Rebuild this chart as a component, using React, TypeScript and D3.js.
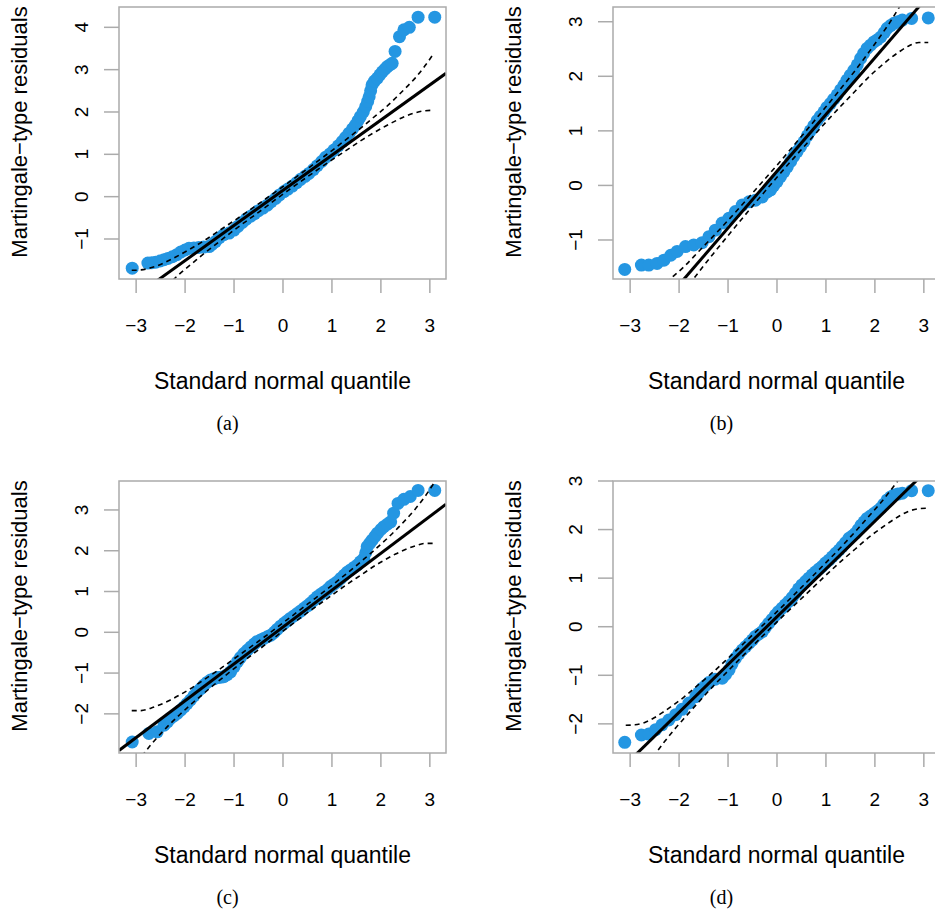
import { useEffect, useRef } from 'react';
import * as d3 from 'd3';

const W = 935;
const H = 910;

const xTicks = [-3, -2, -1, 0, 1, 2, 3];
const xDomain: [number, number] = [-3.35, 3.33];

// Envelope abscissae (shared by all panels)
const envX = [-3.09, -2.9, -2.7, -2.5, -2.3, -2.1, -1.9, -1.6, -1.3, -1, -0.5, 0, 0.5, 1, 1.3, 1.6, 1.9, 2.1, 2.3, 2.5, 2.7, 2.9, 3.09];

// (a)
const qA = [-3.08, -2.76, -2.68, -2.6, -2.51, -2.43, -2.35, -2.26, -2.17, -2.09, -2.0, -1.92, -1.82, -1.72, -1.62, -1.51, -1.45, -1.38, -1.3, -1.21, -1.1, -1.0, -0.92, -0.83, -0.75, -0.66, -0.58, -0.5, -0.41, -0.32, -0.24, -0.15, -0.07, 0.02, 0.1, 0.19, 0.28, 0.36, 0.45, 0.53, 0.62, 0.7, 0.79, 0.87, 0.96, 1.04, 1.13, 1.21, 1.28, 1.35, 1.42, 1.48, 1.53, 1.58, 1.64, 1.69, 1.73, 1.76, 1.79, 1.82, 1.87, 1.93, 1.98, 2.03, 2.08, 2.13, 2.18, 2.23, 2.29, 2.38, 2.47, 2.58, 2.76, 3.1];
const resA = [-1.69, -1.57, -1.56, -1.55, -1.52, -1.49, -1.46, -1.42, -1.37, -1.31, -1.26, -1.22, -1.21, -1.2, -1.19, -1.18, -1.13, -1.06, -0.97, -0.9, -0.86, -0.79, -0.7, -0.61, -0.53, -0.46, -0.4, -0.33, -0.27, -0.2, -0.12, -0.04, 0.04, 0.12, 0.18, 0.25, 0.33, 0.41, 0.48, 0.55, 0.64, 0.73, 0.83, 0.93, 1.01, 1.1, 1.2, 1.3, 1.4, 1.5, 1.6, 1.69, 1.79, 1.89, 2.0, 2.13, 2.25, 2.36, 2.5, 2.64, 2.73, 2.8, 2.88, 2.95, 3.01, 3.07, 3.11, 3.15, 3.43, 3.78, 3.94, 4.0, 4.24, 4.24];
const yTicksA = [-1, 0, 1, 2, 3, 4];
const lineA = [0.15, 0.83]; // intercept, slope
const envHiA = [-1.74, -1.73, -1.68, -1.6, -1.49, -1.37, -1.24, -1.03, -0.8, -0.57, -0.17, 0.24, 0.66, 1.09, 1.36, 1.63, 1.92, 2.11, 2.33, 2.56, 2.8, 3.09, 3.4];
const envLoA = [-3.1, -2.79, -2.5, -2.26, -2.03, -1.81, -1.62, -1.33, -1.06, -0.79, -0.37, 0.06, 0.47, 0.87, 1.1, 1.33, 1.54, 1.67, 1.79, 1.9, 1.98, 2.03, 2.04];

// (b)
const qB = [-3.11, -2.77, -2.62, -2.45, -2.31, -2.17, -2.04, -1.87, -1.7, -1.53, -1.39, -1.26, -1.12, -0.98, -0.85, -0.71, -0.57, -0.44, -0.3, -0.2, -0.13, -0.07, 0.0, 0.07, 0.14, 0.21, 0.28, 0.34, 0.41, 0.48, 0.55, 0.62, 0.68, 0.75, 0.82, 0.89, 0.96, 1.02, 1.09, 1.16, 1.23, 1.3, 1.37, 1.43, 1.5, 1.57, 1.64, 1.71, 1.77, 1.84, 1.91, 1.98, 2.05, 2.12, 2.19, 2.25, 2.32, 2.39, 2.47, 2.56, 2.75, 3.09];
const resB = [-1.54, -1.46, -1.46, -1.43, -1.37, -1.28, -1.21, -1.12, -1.09, -1.05, -0.94, -0.82, -0.69, -0.6, -0.48, -0.36, -0.3, -0.27, -0.21, -0.12, -0.08, -0.01, 0.07, 0.16, 0.25, 0.34, 0.44, 0.53, 0.62, 0.71, 0.8, 0.91, 1.0, 1.09, 1.19, 1.27, 1.35, 1.43, 1.5, 1.58, 1.66, 1.75, 1.84, 1.93, 2.02, 2.11, 2.21, 2.33, 2.42, 2.51, 2.57, 2.63, 2.67, 2.72, 2.8, 2.88, 2.93, 2.97, 3.0, 3.03, 3.06, 3.07];
const yTicksB = [-1, 0, 1, 2, 3];
const lineB = [0.26, 1.04];
const envHiB = [-2.1, -2.09, -2.04, -1.93, -1.8, -1.65, -1.49, -1.21, -0.93, -0.64, -0.14, 0.37, 0.9, 1.44, 1.77, 2.11, 2.47, 2.72, 2.98, 3.27, 3.58, 3.94, 4.33];
const envLoB = [-3.81, -3.42, -3.06, -2.75, -2.46, -2.2, -1.95, -1.59, -1.25, -0.92, -0.38, 0.15, 0.66, 1.16, 1.45, 1.73, 2.01, 2.17, 2.32, 2.45, 2.56, 2.62, 2.62];

// (c)
const qC = [-3.08, -2.74, -2.57, -2.43, -2.36, -2.3, -2.23, -2.16, -2.09, -2.02, -1.96, -1.89, -1.82, -1.75, -1.68, -1.62, -1.55, -1.48, -1.41, -1.34, -1.27, -1.21, -1.14, -1.07, -1.0, -0.93, -0.87, -0.8, -0.73, -0.66, -0.59, -0.53, -0.46, -0.39, -0.32, -0.25, -0.18, -0.12, -0.05, 0.02, 0.09, 0.15, 0.22, 0.29, 0.36, 0.43, 0.5, 0.56, 0.63, 0.7, 0.77, 0.84, 0.91, 0.97, 1.04, 1.11, 1.18, 1.25, 1.31, 1.38, 1.45, 1.52, 1.58, 1.65, 1.69, 1.72, 1.77, 1.82, 1.88, 1.93, 2.0, 2.06, 2.13, 2.2, 2.26, 2.35, 2.47, 2.6, 2.76, 3.1];
const resC = [-2.69, -2.48, -2.44, -2.28, -2.2, -2.11, -2.05, -1.99, -1.91, -1.83, -1.75, -1.66, -1.56, -1.46, -1.38, -1.3, -1.23, -1.17, -1.14, -1.11, -1.1, -1.09, -1.04, -0.97, -0.85, -0.72, -0.62, -0.52, -0.44, -0.36, -0.29, -0.23, -0.19, -0.15, -0.11, -0.07, 0.0, 0.07, 0.15, 0.22, 0.28, 0.34, 0.4, 0.46, 0.52, 0.59, 0.65, 0.71, 0.79, 0.87, 0.93, 0.99, 1.05, 1.12, 1.18, 1.24, 1.32, 1.4, 1.47, 1.53, 1.59, 1.65, 1.73, 1.81, 1.95, 2.1, 2.18, 2.26, 2.35, 2.43, 2.52, 2.59, 2.65, 2.71, 2.92, 3.16, 3.26, 3.33, 3.48, 3.48];
const yTicksC = [-2, -1, 0, 1, 2, 3];
const lineC = [0.13, 0.904];
const envHiC = [-1.92, -1.92, -1.86, -1.77, -1.66, -1.53, -1.39, -1.15, -0.91, -0.65, -0.22, 0.23, 0.69, 1.15, 1.44, 1.74, 2.05, 2.27, 2.5, 2.75, 3.02, 3.33, 3.67];
const envLoC = [-3.41, -3.07, -2.76, -2.49, -2.24, -2.01, -1.79, -1.48, -1.18, -0.89, -0.43, 0.03, 0.48, 0.91, 1.17, 1.41, 1.65, 1.79, 1.92, 2.03, 2.12, 2.18, 2.18];

// (d)
const qD = [-3.11, -2.77, -2.62, -2.48, -2.35, -2.21, -2.07, -1.94, -1.8, -1.66, -1.6, -1.53, -1.46, -1.39, -1.26, -1.12, -1.05, -0.98, -0.92, -0.85, -0.78, -0.71, -0.64, -0.57, -0.5, -0.44, -0.37, -0.3, -0.24, -0.17, -0.1, -0.03, 0.03, 0.1, 0.17, 0.24, 0.31, 0.38, 0.44, 0.51, 0.58, 0.65, 0.72, 0.79, 0.86, 0.92, 0.99, 1.06, 1.13, 1.2, 1.27, 1.33, 1.4, 1.47, 1.54, 1.6, 1.66, 1.72, 1.78, 1.84, 1.91, 1.98, 2.05, 2.12, 2.18, 2.25, 2.32, 2.39, 2.47, 2.56, 2.75, 3.09];
const resD = [-2.38, -2.23, -2.21, -2.12, -2.02, -1.92, -1.81, -1.7, -1.57, -1.44, -1.36, -1.27, -1.21, -1.15, -1.08, -1.06, -0.98, -0.89, -0.77, -0.65, -0.56, -0.48, -0.41, -0.34, -0.27, -0.2, -0.15, -0.1, -0.02, 0.07, 0.15, 0.24, 0.31, 0.38, 0.45, 0.52, 0.6, 0.69, 0.78, 0.86, 0.93, 1.0, 1.07, 1.13, 1.19, 1.24, 1.31, 1.37, 1.44, 1.51, 1.58, 1.65, 1.73, 1.82, 1.87, 1.92, 2.0, 2.09, 2.16, 2.23, 2.28, 2.33, 2.38, 2.44, 2.52, 2.61, 2.67, 2.71, 2.73, 2.75, 2.8, 2.8];
const yTicksD = [-2, -1, 0, 1, 2, 3];
const lineD = [0.205, 0.984];
const envHiD = [-2.03, -2.02, -1.97, -1.87, -1.74, -1.6, -1.45, -1.19, -0.93, -0.65, -0.17, 0.31, 0.81, 1.32, 1.63, 1.96, 2.3, 2.53, 2.78, 3.05, 3.35, 3.69, 4.06];
const envLoD = [-3.65, -3.28, -2.94, -2.64, -2.37, -2.12, -1.89, -1.55, -1.22, -0.91, -0.4, 0.1, 0.58, 1.06, 1.34, 1.6, 1.86, 2.01, 2.15, 2.28, 2.38, 2.43, 2.44];

interface Panel {
  tag: string;
  left: number;
  top: number;
  q: number[];
  res: number[];
  line: number[];
  hi: number[];
  lo: number[];
  yTicks: number[];
  yDomain: [number, number];
}

const panels: Panel[] = [
  { tag: '(a)', left: 119, top: 7, q: qA, res: resA, line: lineA, hi: envHiA, lo: envLoA, yTicks: yTicksA, yDomain: [-1.945, 4.48] },
  { tag: '(b)', left: 613, top: 7, q: qB, res: resB, line: lineB, hi: envHiB, lo: envLoB, yTicks: yTicksB, yDomain: [-1.715, 3.27] },
  { tag: '(c)', left: 119, top: 481, q: qC, res: resC, line: lineC, hi: envHiC, lo: envLoC, yTicks: yTicksC, yDomain: [-2.96, 3.71] },
  { tag: '(d)', left: 613, top: 481, q: qD, res: resD, line: lineD, hi: envHiD, lo: envLoD, yTicks: yTicksD, yDomain: [-2.6, 3.0] },
];

const BOX_W = 327;
const BOX_H = 272;
const SANS = "'Liberation Sans', Arial, Helvetica, sans-serif";
const SERIF = "'Liberation Serif', 'Times New Roman', serif";
const BLUE = '#2496e2';
const GRAY = '#ababab';

export default function App() {
  const svgRef = useRef<SVGSVGElement>(null);

  useEffect(() => {
    const svg = d3.select(svgRef.current);
    svg.selectAll('*').remove();
    const fmt = d3.format('d');

    panels.forEach((p, i) => {
      const x = d3.scaleLinear().domain(xDomain).range([p.left, p.left + BOX_W]);
      const y = d3.scaleLinear().domain(p.yDomain).range([p.top + BOX_H, p.top]);
      const bottom = p.top + BOX_H;
      const cx = p.left + BOX_W / 2;

      const clipId = `clip-${i}`;
      svg
        .append('clipPath')
        .attr('id', clipId)
        .append('rect')
        .attr('x', p.left)
        .attr('y', p.top)
        .attr('width', BOX_W)
        .attr('height', BOX_H);

      const plot = svg.append('g').attr('clip-path', `url(#${clipId})`);

      // Points
      plot
        .selectAll('circle')
        .data(d3.zip(p.q, p.res))
        .join('circle')
        .attr('cx', (d) => x(d[0]))
        .attr('cy', (d) => y(d[1]))
        .attr('r', 6.5)
        .attr('fill', BLUE);

      // Reference line
      const [a, b] = p.line;
      plot
        .append('line')
        .attr('x1', x(xDomain[0]))
        .attr('y1', y(a + b * xDomain[0]))
        .attr('x2', x(xDomain[1]))
        .attr('y2', y(a + b * xDomain[1]))
        .attr('stroke', '#000')
        .attr('stroke-width', 3);

      // Confidence envelope
      const env = d3
        .line<number>()
        .x((_, j) => x(envX[j]))
        .y((v) => y(v))
        .curve(d3.curveMonotoneX);
      [p.hi, p.lo].forEach((vals) => {
        plot
          .append('path')
          .attr('d', env(vals))
          .attr('fill', 'none')
          .attr('stroke', '#000')
          .attr('stroke-width', 1.6)
          .attr('stroke-dasharray', '5 4');
      });

      // Box
      svg
        .append('rect')
        .attr('x', p.left)
        .attr('y', p.top)
        .attr('width', BOX_W)
        .attr('height', BOX_H)
        .attr('fill', 'none')
        .attr('stroke', GRAY)
        .attr('stroke-width', 1.5);

      // X axis
      xTicks.forEach((t) => {
        svg
          .append('line')
          .attr('x1', x(t))
          .attr('x2', x(t))
          .attr('y1', bottom)
          .attr('y2', bottom + 14)
          .attr('stroke', GRAY)
          .attr('stroke-width', 1.5);
        svg
          .append('text')
          .attr('x', x(t))
          .attr('y', bottom + 53)
          .attr('text-anchor', 'middle')
          .attr('font-family', SANS)
          .attr('font-size', 19)
          .attr('fill', '#000')
          .text(fmt(t));
      });

      // Y axis
      p.yTicks.forEach((t) => {
        svg
          .append('line')
          .attr('x1', p.left - 15)
          .attr('x2', p.left)
          .attr('y1', y(t))
          .attr('y2', y(t))
          .attr('stroke', GRAY)
          .attr('stroke-width', 1.5);
        svg
          .append('text')
          .attr('transform', `translate(${p.left - 31},${y(t)}) rotate(-90)`)
          .attr('text-anchor', 'middle')
          .attr('font-family', SANS)
          .attr('font-size', 19)
          .attr('fill', '#000')
          .text(fmt(t));
      });

      // Axis titles
      svg
        .append('text')
        .attr('x', cx)
        .attr('y', bottom + 110)
        .attr('text-anchor', 'middle')
        .attr('font-family', SANS)
        .attr('font-size', 23)
        .attr('fill', '#000')
        .text('Standard normal quantile');

      svg
        .append('text')
        .attr('transform', `translate(${p.left - 92},${p.top + 125}) rotate(-90)`)
        .attr('text-anchor', 'middle')
        .attr('font-family', SANS)
        .attr('font-size', 22)
        .attr('fill', '#000')
        .text('Martingale\u2212type residuals');

      // Caption
      svg
        .append('text')
        .attr('x', cx - 55)
        .attr('y', bottom + 151)
        .attr('text-anchor', 'middle')
        .attr('font-family', SERIF)
        .attr('font-size', 20)
        .attr('fill', '#000')
        .text(p.tag);
    });
  }, []);

  return (
    <svg
      ref={svgRef}
      width={W}
      height={H}
      style={{ position: 'absolute', left: 0, top: 0, background: '#fff' }}
    />
  );
}
